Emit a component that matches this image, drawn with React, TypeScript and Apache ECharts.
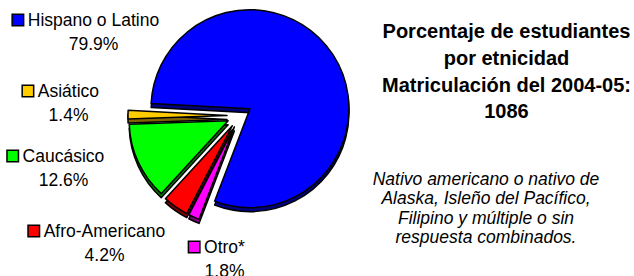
import React, { useEffect, useRef } from "react";
import * as echarts from "echarts";

const categories = ["Hispano o Latino", "Otro*", "Afro-Americano", "Caucásico", "Asiático"];
const values = [79.9, 1.8, 4.2, 12.6, 1.4];
const colors = ["#0000FF", "#FF00FF", "#FF0000", "#00FF00", "#FFCC00"];
const darkColors = ["#000080", "#800080", "#800000", "#008000", "#806600"];

const titleLines = ["Porcentaje de estudiantes", "por etnicidad", "Matriculación del 2004-05:", "1086"];
const noteLines = [
  "Nativo americano o nativo de",
  "Alaska, Isleño del Pacífico,",
  "Filipino y múltiple o sin",
  "respuesta combinados.",
];

// label anchor (center x, top y) per category
const LABEL_POS: [number, number][] = [
  [86, 8],
  [217, 235],
  [97, 219],
  [56, 144],
  [61, 79],
];

const FONT = "'Liberation Sans', Arial, Helvetica, sans-serif";
const CENTER: [number, number] = [239.5, 115.5];
const RADIUS = 99;
const DEPTH = 4;
const OFFSET = 12.5;
const START = 177;

export default function App() {
  const ref = useRef<HTMLDivElement>(null);

  useEffect(() => {
    if (!ref.current) return;
    const chart = echarts.init(ref.current, null, { renderer: "svg" });

    const mkData = (cols: string[]) =>
      categories.map((name, i) => ({
        name,
        value: values[i],
        selected: true,
        itemStyle: { color: cols[i] },
        select: { itemStyle: { color: cols[i] } },
      }));

    const common = {
      type: "pie",
      radius: RADIUS,
      startAngle: START,
      clockwise: true,
      selectedMode: "multiple",
      selectedOffset: OFFSET,
      avoidLabelOverlap: false,
      silent: true,
      label: { show: false },
      labelLine: { show: false },
      itemStyle: { borderColor: "#000", borderWidth: 1.5 },
      select: { itemStyle: { borderColor: "#000", borderWidth: 1.5 } },
      emphasis: { disabled: true },
    };

    const labelGraphics = categories.map((name, i) => ({
      type: "text",
      x: LABEL_POS[i][0],
      y: LABEL_POS[i][1],
      silent: true,
      style: {
        text: `{box|} {name|${name}}\n{pct|${values[i].toFixed(1)}%}`,
        font: `17.5px ${FONT}`,
        fill: "#000",
        align: "center",
        verticalAlign: "top",
        rich: {
          box: {
            width: 10,
            height: 10,
            backgroundColor: colors[i],
            borderColor: "#000",
            borderWidth: 1.5,
            align: "center",
            verticalAlign: "middle",
          },
          name: { font: `17.5px ${FONT}`, lineHeight: 24, fill: "#000", align: "center" },
          pct: {
            font: `17.5px ${FONT}`,
            lineHeight: 24,
            fill: "#000",
            align: "center",
            padding: [0, 0, 0, 15],
          },
        },
      },
    }));

    chart.setOption({
      animation: false,
      backgroundColor: "#fff",
      series: [
        {
          ...common,
          z: 1,
          center: [CENTER[0], CENTER[1] + DEPTH],
          data: mkData(darkColors),
        },
        {
          ...common,
          z: 2,
          center: CENTER,
          data: mkData(colors),
        },
      ],
      graphic: [
        ...labelGraphics,
        {
          type: "text",
          x: 506.5,
          y: 18,
          style: {
            text: titleLines.join("\n"),
            font: `bold 20px ${FONT}`,
            fill: "#000",
            align: "center",
            verticalAlign: "top",
            lineHeight: 26.67,
          },
        },
        {
          type: "text",
          x: 486,
          y: 169,
          style: {
            text: noteLines.join("\n"),
            font: `italic 17.5px ${FONT}`,
            fill: "#000",
            align: "center",
            verticalAlign: "top",
            lineHeight: 19.4,
          },
        },
      ],
    });

    return () => chart.dispose();
  }, []);

  return (
    <div
      ref={ref}
      style={{ position: "fixed", left: 0, top: 0, width: 634, height: 276, background: "#fff" }}
    />
  );
}
